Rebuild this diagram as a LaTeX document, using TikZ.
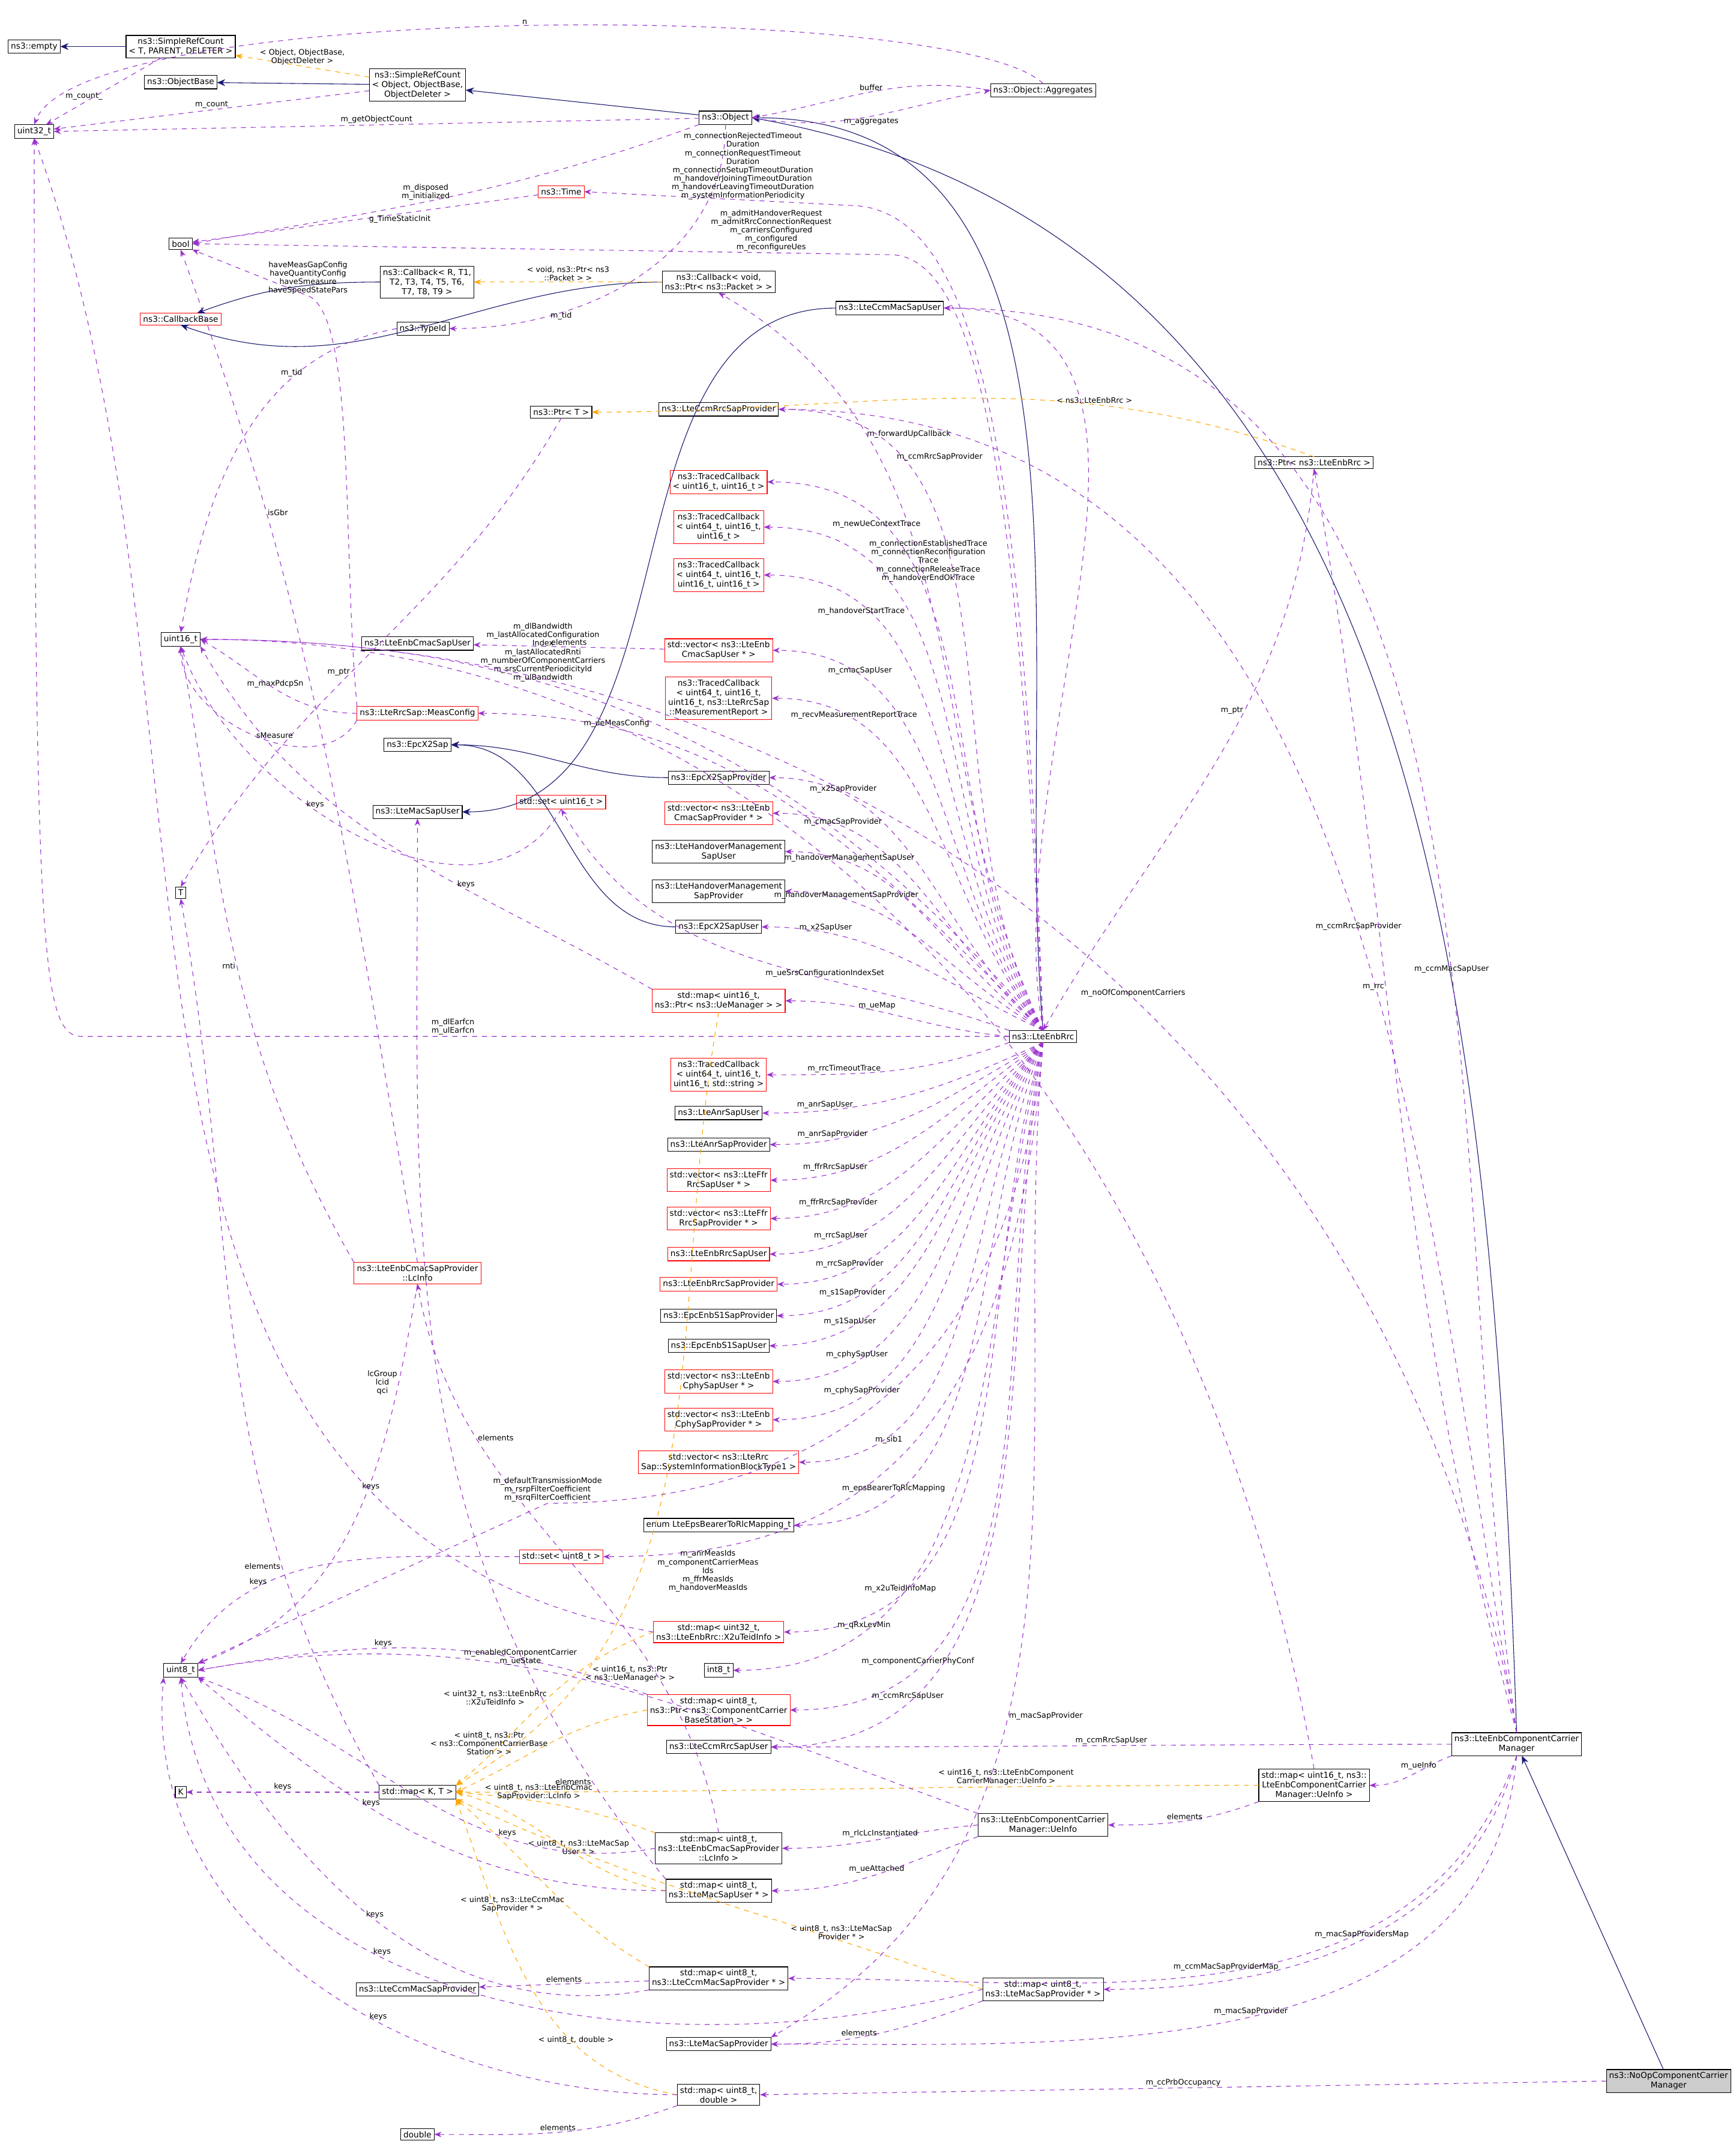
\documentclass[tikz,border=0pt]{standalone}
\usepackage{fontspec}
\setmainfont{DejaVu Sans}
\usetikzlibrary{arrows.meta}
\definecolor{memc}{RGB}{154,50,205}
\definecolor{navyc}{RGB}{25,25,112}
\definecolor{tmplc}{RGB}{255,165,0}
\tikzset{
  cls/.style={draw=black, fill=white, scale=0.25, font=\fontsize{6}{7}\selectfont, align=center, inner sep=2pt},
  rcls/.style={cls, draw=red},
  mem/.style={draw=memc, dash pattern=on 0.9pt off 0.9pt, -{Stealth[length=1.3pt,width=1pt]}},
  tmpl/.style={draw=tmplc, dash pattern=on 0.9pt off 0.9pt, -{Stealth[length=1.3pt,width=1pt]}},
  inh/.style={draw=navyc, -{Stealth[length=1.5pt,width=1.25pt]}},
  lbl/.style={scale=0.25, font=\fontsize{5.6}{6.2}\selectfont, align=center, inner sep=1pt, text=black}
}
\begin{document}
\begin{tikzpicture}[x=0.25pt,y=-0.25pt,line width=0.12pt]
\useasboundingbox (0,0) rectangle (1268,1566);
% classes
\node[cls] (empty) at (25,34) {ns3::empty};
\node[cls] (srct) at (132,34) {ns3::SimpleRefCount\\< T, PARENT, DELETER >};
\node[cls] (objbase) at (132,60) {ns3::ObjectBase};
\node[cls] (srco) at (305,62) {ns3::SimpleRefCount\\< Object, ObjectBase,\\ObjectDeleter >};
\node[cls] (u32) at (25,96) {uint32\_t};
\node[cls] (object) at (530,86) {ns3::Object};
\node[cls] (aggr) at (762,66) {ns3::Object::Aggregates};
\node[rcls] (time) at (410,140) {ns3::Time};
\node[cls] (bool) at (132,178) {bool};
\node[cls] (cbr) at (312,206) {ns3::Callback< R, T1,\\T2, T3, T4, T5, T6,\\T7, T8, T9 >};
\node[cls] (cbv) at (525,206) {ns3::Callback< void,\\ns3::Ptr< ns3::Packet > >};
\node[rcls] (cbbase) at (132,233) {ns3::CallbackBase};
\node[cls] (typeid) at (309,240) {ns3::TypeId};
\node[cls] (ccmmacuser) at (650,225) {ns3::LteCcmMacSapUser};
\node[cls] (ptrt) at (410,301) {ns3::Ptr< T >};
\node[cls] (ccmrrcprov) at (525,299) {ns3::LteCcmRrcSapProvider};
\node[cls] (ptrrrc) at (960,338) {ns3::Ptr< ns3::LteEnbRrc >};
\node[rcls] (tc1) at (525,352) {ns3::TracedCallback\\< uint16\_t, uint16\_t >};
\node[rcls] (tc2) at (525,385) {ns3::TracedCallback\\< uint64\_t, uint16\_t,\\uint16\_t >};
\node[rcls] (tc3) at (525,420) {ns3::TracedCallback\\< uint64\_t, uint16\_t,\\uint16\_t, uint16\_t >};
\node[cls] (u16) at (132,467) {uint16\_t};
\node[cls] (cmacuser) at (305,470) {ns3::LteEnbCmacSapUser};
\node[rcls] (veccmacuser) at (525,475) {std::vector< ns3::LteEnb\\CmacSapUser * >};
\node[rcls] (tcmeas) at (525,510) {ns3::TracedCallback\\< uint64\_t, uint16\_t,\\uint16\_t, ns3::LteRrcSap\\::MeasurementReport >};
\node[rcls] (measconf) at (305,521) {ns3::LteRrcSap::MeasConfig};
\node[cls] (x2sap) at (305,544) {ns3::EpcX2Sap};
\node[cls] (x2prov) at (525,568) {ns3::EpcX2SapProvider};
\node[cls] (macuser) at (305,593) {ns3::LteMacSapUser};
\node[rcls] (set16) at (410,586) {std::set< uint16\_t >};
\node[rcls] (veccmacprov) at (525,594) {std::vector< ns3::LteEnb\\CmacSapProvider * >};
\node[cls] (houser) at (525,622) {ns3::LteHandoverManagement\\SapUser};
\node[cls] (hoprov) at (525,651) {ns3::LteHandoverManagement\\SapProvider};
\node[cls] (tt) at (132,652) {T};
\node[cls] (x2user) at (525,677) {ns3::EpcX2SapUser};
\node[rcls] (uemap) at (525,731) {std::map< uint16\_t,\\ns3::Ptr< ns3::UeManager > >};
\node[cls] (rrc) at (762,757) {ns3::LteEnbRrc};
\node[rcls] (tc4) at (525,785) {ns3::TracedCallback\\< uint64\_t, uint16\_t,\\uint16\_t, std::string >};
\node[cls] (anruser) at (525,813) {ns3::LteAnrSapUser};
\node[cls] (anrprov) at (525,836) {ns3::LteAnrSapProvider};
\node[rcls] (ffruser) at (525,862) {std::vector< ns3::LteFfr\\RrcSapUser * >};
\node[rcls] (ffrprov) at (525,890) {std::vector< ns3::LteFfr\\RrcSapProvider * >};
\node[rcls] (rrcuser) at (525,916) {ns3::LteEnbRrcSapUser};
\node[rcls] (rrcprov) at (525,938) {ns3::LteEnbRrcSapProvider};
\node[rcls] (lcinfo) at (305,930) {ns3::LteEnbCmacSapProvider\\::LcInfo};
\node[cls] (s1prov) at (525,961) {ns3::EpcEnbS1SapProvider};
\node[cls] (s1user) at (525,983) {ns3::EpcEnbS1SapUser};
\node[rcls] (cphyuser) at (525,1009) {std::vector< ns3::LteEnb\\CphySapUser * >};
\node[rcls] (cphyprov) at (525,1037) {std::vector< ns3::LteEnb\\CphySapProvider * >};
\node[rcls] (sib) at (525,1068) {std::vector< ns3::LteRrc\\Sap::SystemInformationBlockType1 >};
\node[cls] (enumrlc) at (525,1114) {enum LteEpsBearerToRlcMapping\_t};
\node[rcls] (set8) at (410,1137) {std::set< uint8\_t >};
\node[rcls] (x2umap) at (525,1192) {std::map< uint32\_t,\\ns3::LteEnbRrc::X2uTeidInfo >};
\node[cls] (u8) at (132,1220) {uint8\_t};
\node[cls] (i8) at (525,1220) {int8\_t};
\node[rcls] (ccmap) at (525,1249) {std::map< uint8\_t,\\ns3::Ptr< ns3::ComponentCarrier\\BaseStation > >};
\node[cls] (ccmrrcuser) at (525,1276) {ns3::LteCcmRrcSapUser};
\node[cls] (ccm) at (1108,1274) {ns3::LteEnbComponentCarrier\\Manager};
\node[cls] (ueinfomap) at (960,1304) {std::map< uint16\_t, ns3::\\LteEnbComponentCarrier\\Manager::UeInfo >};
\node[cls] (kk) at (132,1309) {K};
\node[cls] (mapkt) at (305,1309) {std::map< K, T >};
\node[cls] (ueinfo) at (762,1333) {ns3::LteEnbComponentCarrier\\Manager::UeInfo};
\node[cls] (lcmap) at (525,1350) {std::map< uint8\_t,\\ns3::LteEnbCmacSapProvider\\::LcInfo >};
\node[cls] (macusermap) at (525,1381) {std::map< uint8\_t,\\ns3::LteMacSapUser * >};
\node[cls] (ccmmacprovmap) at (525,1445) {std::map< uint8\_t,\\ns3::LteCcmMacSapProvider * >};
\node[cls] (ccmmacprov) at (305,1453) {ns3::LteCcmMacSapProvider};
\node[cls] (macprovmap) at (762,1453) {std::map< uint8\_t,\\ns3::LteMacSapProvider * >};
\node[cls] (macprov) at (525,1493) {ns3::LteMacSapProvider};
\node[cls] (dblmap) at (525,1530) {std::map< uint8\_t,\\double >};
\node[cls, fill=gray!40] (noop) at (1219,1520) {ns3::NoOpComponentCarrier\\Manager};
\node[cls] (dbl) at (305,1559) {double};

% inheritance
\draw[inh] (srct) -- (empty);
\draw[inh] (srco) -- (objbase);
\draw[inh] (object) -- (srco);
\draw[inh] (rrc.north) to[out=95,in=0] (object.east);
\draw[inh] (ccm.north) to[out=92,in=-10] (object.east);
\draw[inh] (noop) -- (ccm);
\draw[inh] (cbr.west) to[out=180,in=20] (cbbase);
\draw[inh] (cbv.west) to[out=180,in=-20] (cbbase.south);
\draw[inh] (ccmmacuser.west) to[out=180,in=0] (macuser.east);
\draw[inh] (x2prov.west) to[out=180,in=0] (x2sap.east);
\draw[inh] (x2user.west) to[out=180,in=0] (x2sap.east);

% templates
\draw[tmpl] (srco) to node[lbl, above, pos=0.5] {< Object, ObjectBase,\\ObjectDeleter >} (srct);
\draw[tmpl] (cbv) to node[lbl, above] {< void, ns3::Ptr< ns3\\::Packet > >} (cbr);
\draw[tmpl] (ptrrrc.north) to[out=160,in=0] node[lbl, above, pos=0.3] {< ns3::LteEnbRrc >} (ptrt.east);
\draw[tmpl] (uemap.south) to[out=260,in=30] node[lbl, pos=0.8, right] {< uint16\_t, ns3::Ptr\\< ns3::UeManager > >} (mapkt.north east);
\draw[tmpl] (x2umap.west) to[out=200,in=40] node[lbl, pos=0.5, left] {< uint32\_t, ns3::LteEnbRrc\\::X2uTeidInfo >} (mapkt.north east);
\draw[tmpl] (ccmap.west) to[out=190,in=25] node[lbl, pos=0.5, left] {< uint8\_t, ns3::Ptr\\< ns3::ComponentCarrierBase\\Station > >} (mapkt.east);
\draw[tmpl] (ueinfomap.west) to[out=180,in=0] node[lbl, pos=0.3, above] {< uint16\_t, ns3::LteEnbComponent\\CarrierManager::UeInfo >} (mapkt.east);
\draw[tmpl] (lcmap.north west) to[out=160,in=-5] node[lbl, pos=0.6, above] {< uint8\_t, ns3::LteEnbCmac\\SapProvider::LcInfo >} (mapkt.east);
\draw[tmpl] (macusermap.west) to[out=170,in=-15] node[lbl, pos=0.4, above] {< uint8\_t, ns3::LteMacSap\\User * >} (mapkt.east);
\draw[tmpl] (ccmmacprovmap.north west) to[out=150,in=-40] node[lbl, pos=0.4, left] {< uint8\_t, ns3::LteCcmMac\\SapProvider * >} (mapkt.south east);
\draw[tmpl] (macprovmap.west) to[out=160,in=-25] node[lbl, pos=0.25, above] {< uint8\_t, ns3::LteMacSap\\Provider * >} (mapkt.south east);
\draw[tmpl] (dblmap.west) to[out=170,in=-70] node[lbl, pos=0.3, above] {< uint8\_t, double >} (mapkt.south east);

% members of base classes
\draw[mem] (srct) to node[lbl, below left] {m\_count\_} (u32);
\draw[mem] (srco) to node[lbl, above] {m\_count} (u32);
\draw[mem] (object) to node[lbl, above] {m\_getObjectCount} (u32.east);
\draw[mem] (aggr.north) .. controls (700,0) and (60,0) .. node[lbl, above] {n} (u32.north);
\draw[mem] (aggr.west) to[out=170,in=10] node[lbl, above] {buffer} (object.east);
\draw[mem] (object.east) to[out=-10,in=190] node[lbl, below] {m\_aggregates} (aggr.west);
\draw[mem] (object.south west) to[out=200,in=10] node[lbl, above, pos=0.55] {m\_disposed\\m\_initialized} (bool.east);
\draw[mem] (object.south) to[out=270,in=0] node[lbl, pos=0.75, right] {m\_tid} (typeid.east);
\draw[mem] (time) to node[lbl, below, pos=0.4] {g\_TimeStaticInit} (bool);
\draw[mem] (typeid.west) to[out=190,in=80] node[lbl, pos=0.3, above] {m\_tid} (u16.north);
\draw[mem] (ptrt.south) to[out=240,in=60] node[lbl, pos=0.55, left] {m\_ptr} (tt.north);
\draw[mem] (measconf.north west) .. controls (250,400) and (260,230) .. (225,216) node[lbl, above] {haveMeasGapConfig\\haveQuantityConfig\\haveSmeasure\\haveSpeedStatePars} -- (bool.south east);
\draw[mem] (measconf.west) to[out=180,in=-30] node[lbl, pos=0.5, above] {m\_maxPdcpSn} (u16.east);
\draw[mem] (lcinfo.north) to[out=100,in=-70] node[lbl, pos=0.75, right] {isGbr} (bool.south);
\draw[mem] (lcinfo.north west) to[out=120,in=-80] node[lbl, pos=0.5, left] {rnti} (u16.south);
\draw[mem] (lcinfo.south) to[out=260,in=20] node[lbl, pos=0.2, left] {lcGroup\\lcid\\qci} (u8.north east);
\draw[mem] (set16.south) to[out=240,in=-70] node[lbl, pos=0.6, above] {keys} (u16.south);
\draw[mem] (uemap.north west) to[out=150,in=-60] node[lbl, pos=0.35, above] {keys} (u16.south east);
\draw[mem] (measconf.south west) to[out=240,in=-90] node[lbl, pos=0.5, right] {sMeasure} (u16.south);
\draw[mem] (veccmacuser) to node[lbl, above] {elements} (cmacuser);
\draw[mem] (set8.west) to[out=180,in=60] node[lbl, above, pos=0.7] {keys} (u8.north);
\draw[mem] (x2umap.west) to[out=170,in=-70] node[lbl, above, pos=0.2] {keys} (u32.south);
\draw[mem] (ccmap.north west) to[out=160,in=10] node[lbl, above, pos=0.6] {keys} (u8.east);
\draw[mem] (mapkt) to node[lbl, above] {keys} (kk);
\draw[mem] (mapkt.north west) to[out=120,in=-80] node[lbl, pos=0.25, left] {elements} (tt.south);
\draw[mem] (lcmap.west) to[out=190,in=-20] node[lbl, pos=0.3, above] {keys} (u8.south east);
\draw[mem] (lcmap.north) to[out=100,in=-80] node[lbl, pos=0.75, right] {elements} (lcinfo.south);
\draw[mem] (macusermap.west) to[out=180,in=-40] node[lbl, pos=0.6, above] {keys} (u8.south east);
\draw[mem] (macusermap.north west) to[out=130,in=-90] node[lbl, pos=0.1, left] {elements} (macuser.south);
\draw[mem] (ccmmacprovmap) to node[lbl, above] {elements} (ccmmacprov);
\draw[mem] (ccmmacprovmap.south west) to[out=190,in=-60] node[lbl, pos=0.5, above] {keys} (u8.south);
\draw[mem] (macprovmap.south west) to[out=200,in=0] node[lbl, pos=0.6, above] {elements} (macprov.east);
\draw[mem] (macprovmap.west) to[out=195,in=-85] node[lbl, pos=0.6, above] {keys} (u8.south);
\draw[mem] (dblmap.west) to[out=180,in=-95] node[lbl, pos=0.4, above] {keys} (u8.south west);
\draw[mem] (dblmap.south west) to[out=200,in=0] node[lbl, pos=0.5, above] {elements} (dbl.east);
\draw[mem] (ptrrrc.south) to[out=265,in=60] node[lbl, pos=0.4, left] {m\_ptr} (rrc.north);

% members of ns3::LteEnbRrc
\draw[mem] (rrc.north) .. controls (748,350) and (720,150) .. (620,150) -- node[lbl, pos=0.4, above, inner sep=0pt] {m\_connectionRejectedTimeout\\Duration\\m\_connectionRequestTimeout\\Duration\\m\_connectionSetupTimeoutDuration\\m\_handoverJoiningTimeoutDuration\\m\_handoverLeavingTimeoutDuration\\m\_systemInformationPeriodicity} (time.east);
\draw[mem] (rrc.north) .. controls (745,380) and (720,186) .. (650,186) -- node[lbl, pos=0.17, above] {m\_admitHandoverRequest\\m\_admitRrcConnectionRequest\\m\_carriersConfigured\\m\_configured\\m\_reconfigureUes} (bool.east);
\draw[mem] (rrc.north) to[out=115,in=-30] node[lbl, pos=0.75, right] {m\_forwardUpCallback} (cbv.south);
\draw[mem] (rrc.north) to[out=118,in=0] node[lbl, pos=0.8, below right] {m\_ccmRrcSapProvider} (ccmrrcprov.east);
\draw[mem] (rrc.north) to[out=120,in=0] node[lbl, pos=0.8, below] {m\_newUeContextTrace} (tc1.east);
\draw[mem] (rrc.north) to[out=122,in=0] node[lbl, pos=0.8, right] {m\_connectionEstablishedTrace\\m\_connectionReconfiguration\\Trace\\m\_connectionReleaseTrace\\m\_handoverEndOkTrace} (tc2.east);
\draw[mem] (rrc.north) to[out=125,in=0] node[lbl, pos=0.8, below] {m\_handoverStartTrace} (tc3.east);
\draw[mem] (rrc.north) to[out=130,in=0] node[lbl, pos=0.65, above] {m\_dlBandwidth\\m\_lastAllocatedConfiguration\\Index\\m\_lastAllocatedRnti\\m\_numberOfComponentCarriers\\m\_srsCurrentPeriodicityId\\m\_ulBandwidth} (u16.east);
\draw[mem] (rrc.north) to[out=128,in=0] node[lbl, pos=0.8, above] {m\_cmacSapUser} (veccmacuser.east);
\draw[mem] (rrc.north) to[out=130,in=0] node[lbl, pos=0.8, above] {m\_recvMeasurementReportTrace} (tcmeas.east);
\draw[mem] (rrc.north) to[out=135,in=0] node[lbl, pos=0.8, above] {m\_ueMeasConfig} (measconf.east);
\draw[mem] (rrc.north) to[out=138,in=0] node[lbl, pos=0.8, above] {m\_x2SapProvider} (x2prov.east);
\draw[mem] (rrc.north) to[out=140,in=0] node[lbl, pos=0.8, above] {m\_cmacSapProvider} (veccmacprov.east);
\draw[mem] (rrc.north) to[out=145,in=0] node[lbl, pos=0.8, above] {m\_handoverManagementSapUser} (houser.east);
\draw[mem] (rrc.north) to[out=150,in=0] node[lbl, pos=0.8, above] {m\_handoverManagementSapProvider} (hoprov.east);
\draw[mem] (rrc.north) to[out=155,in=0] node[lbl, pos=0.8, above] {m\_x2SapUser} (x2user.east);
\draw[mem] (rrc.north west) to[out=160,in=-60] node[lbl, pos=0.35, above] {m\_ueSrsConfigurationIndexSet} (set16.south);
\draw[mem] (rrc.west) to[out=175,in=0] node[lbl, pos=0.6, above] {m\_ueMap} (uemap.east);
\draw[mem] (rrc.west) -- node[lbl, pos=0.6, above] {m\_dlEarfcn\\m\_ulEarfcn} (60,757) .. controls (30,757) and (25,700) .. (u32.south);
\draw[mem] (rrc.south west) to[out=200,in=0] node[lbl, pos=0.7, above] {m\_rrcTimeoutTrace} (tc4.east);
\draw[mem] (rrc.south) to[out=205,in=0] node[lbl, pos=0.8, above] {m\_anrSapUser} (anruser.east);
\draw[mem] (rrc.south) to[out=210,in=0] node[lbl, pos=0.8, above] {m\_anrSapProvider} (anrprov.east);
\draw[mem] (rrc.south) to[out=215,in=0] node[lbl, pos=0.8, above] {m\_ffrRrcSapUser} (ffruser.east);
\draw[mem] (rrc.south) to[out=220,in=0] node[lbl, pos=0.8, above] {m\_ffrRrcSapProvider} (ffrprov.east);
\draw[mem] (rrc.south) to[out=225,in=0] node[lbl, pos=0.8, above] {m\_rrcSapUser} (rrcuser.east);
\draw[mem] (rrc.south) to[out=228,in=0] node[lbl, pos=0.8, above] {m\_rrcSapProvider} (rrcprov.east);
\draw[mem] (rrc.south) to[out=230,in=0] node[lbl, pos=0.8, above] {m\_s1SapProvider} (s1prov.east);
\draw[mem] (rrc.south) to[out=233,in=0] node[lbl, pos=0.8, above] {m\_s1SapUser} (s1user.east);
\draw[mem] (rrc.south) to[out=236,in=0] node[lbl, pos=0.8, above] {m\_cphySapUser} (cphyuser.east);
\draw[mem] (rrc.south) to[out=240,in=0] node[lbl, pos=0.8, above] {m\_cphySapProvider} (cphyprov.east);
\draw[mem] (rrc.south) to[out=243,in=0] node[lbl, pos=0.8, below] {m\_sib1} (sib.east);
\draw[mem] (rrc.south) .. controls (740,1000) and (600,1098) .. (400,1098) node[lbl, above] {m\_defaultTransmissionMode\\m\_rsrpFilterCoefficient\\m\_rsrqFilterCoefficient} -- (u8.north east);
\draw[mem] (rrc.south) to[out=248,in=0] node[lbl, pos=0.8, above] {m\_epsBearerToRlcMapping} (enumrlc.east);
\draw[mem] (rrc.south) .. controls (740,1060) and (620,1137) .. node[lbl, pos=0.85, below] {m\_anrMeasIds\\m\_componentCarrierMeas\\Ids\\m\_ffrMeasIds\\m\_handoverMeasIds} (set8.east);
\draw[mem] (rrc.south) to[out=253,in=0] node[lbl, pos=0.8, above] {m\_x2uTeidInfoMap} (x2umap.east);
\draw[mem] (rrc.south) to[out=256,in=0] node[lbl, pos=0.8, above] {m\_qRxLevMin} (i8.east);
\draw[mem] (rrc.south) to[out=258,in=0] node[lbl, pos=0.8, above] {m\_componentCarrierPhyConf} (ccmap.east);
\draw[mem] (rrc.south) to[out=260,in=0] node[lbl, pos=0.8, above] {m\_ccmRrcSapUser} (ccmrrcuser.east);
\draw[mem] (rrc.south) to[out=265,in=30] node[lbl, pos=0.6, right] {m\_macSapProvider} (macprov.north east);
\draw[mem] (rrc.north) to[out=100,in=0] (ccmmacuser.east);

% members of ns3::LteEnbComponentCarrierManager
\draw[mem] (ccm.north) to[out=100,in=0] node[lbl, pos=0.45, above] {m\_noOfComponentCarriers} (u16.east);
\draw[mem] (ccm.north) to[out=98,in=0] node[lbl, pos=0.4, above] {m\_ccmMacSapUser} (ccmmacuser.east);
\draw[mem] (ccm.north) to[out=100,in=0] node[lbl, pos=0.45, above] {m\_ccmRrcSapProvider} (ccmrrcprov.east);
\draw[mem] (ccm.north) to[out=105,in=-80] node[lbl, pos=0.6, left] {m\_rrc} (ptrrrc.south);
\draw[mem] (ccm.west) to[out=180,in=0] node[lbl, pos=0.5, above] {m\_ccmRrcSapUser} (ccmrrcuser.east);
\draw[mem] (ccm.south west) to[out=200,in=0] node[lbl, pos=0.4, above] {m\_ueInfo} (ueinfomap.east);
\draw[mem] (ueinfomap.south west) to[out=200,in=0] node[lbl, pos=0.5, above] {elements} (ueinfo.east);
\draw[mem] (ueinfomap.north) to[out=100,in=0] (u16.east);
\draw[mem] (ueinfo.west) to[out=185,in=0] node[lbl, pos=0.5, above] {m\_rlcLcInstantiated} (lcmap.east);
\draw[mem] (ueinfo.south west) to[out=200,in=0] node[lbl, pos=0.5, above] {m\_ueAttached} (macusermap.east);
\draw[mem] (ueinfo.north west) to[out=160,in=10] node[lbl, pos=0.6, above] {m\_enabledComponentCarrier\\m\_ueState} (u8.east);
\draw[mem] (ccm.south) to[out=250,in=0] node[lbl, pos=0.5, above] {m\_ccmMacSapProviderMap} (ccmmacprovmap.east);
\draw[mem] (ccm.south) to[out=255,in=0] node[lbl, pos=0.5, above] {m\_macSapProvidersMap} (macprovmap.east);
\draw[mem] (ccm.south) to[out=265,in=0] node[lbl, pos=0.5, above] {m\_macSapProvider} (macprov.east);
\draw[mem] (noop.west) to node[lbl, pos=0.5, above] {m\_ccPrbOccupancy} (dblmap.east);
\end{tikzpicture}
\end{document}
